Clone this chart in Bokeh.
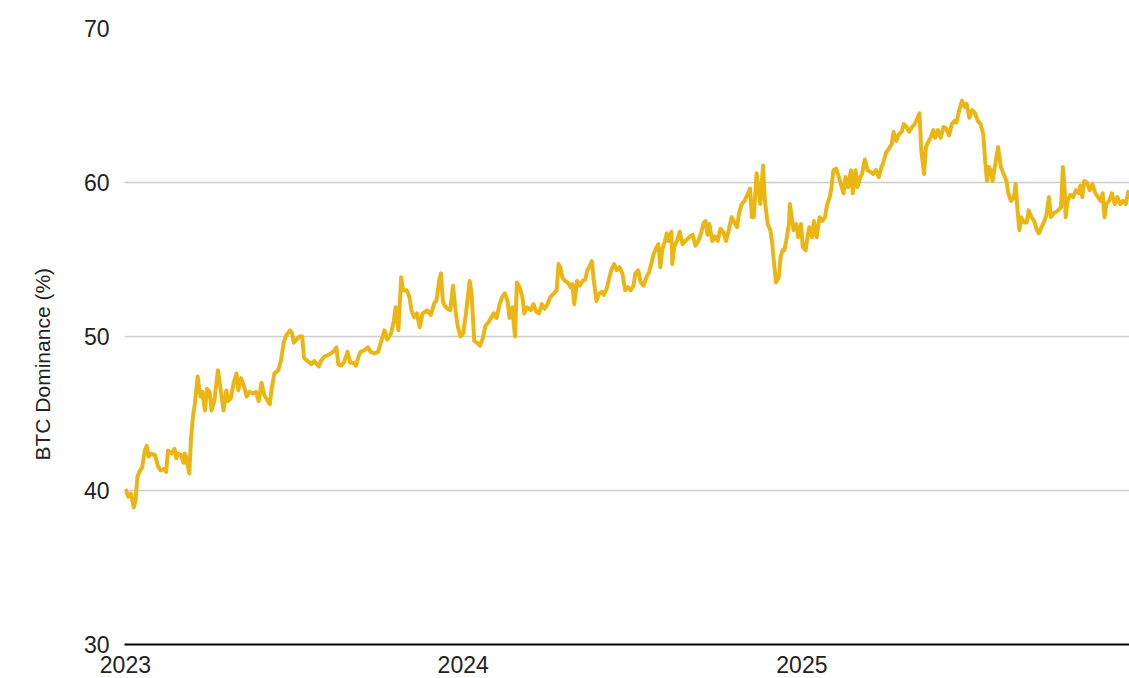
import pandas as pd
from bokeh.plotting import figure
from bokeh.models import Range1d, FixedTicker, DatetimeTickFormatter, Title
from bokeh.embed import file_html
from bokeh.resources import INLINE

# Days since 2023-01-01 and BTC dominance (%)
days = [0, 3, 6, 9, 11, 13, 15, 18, 21, 23, 25, 28, 32, 35, 38, 42, 44, 46, 50, 53,
        55, 57, 60, 63, 64, 66, 69, 71, 73, 75, 78, 81, 83, 86, 88, 91, 93, 96, 100, 103,
        106, 109, 111, 114, 117, 120, 122, 125, 128, 131, 134, 138, 141, 144, 147, 150, 154, 156, 158, 161,
        165, 167, 168, 171, 174, 178, 180, 182, 185, 188, 191, 193, 197, 201, 204, 209,
        211, 215, 219, 222, 226, 228, 230, 233, 236, 240, 243, 246, 249, 252, 254, 258, 262, 265, 269, 273,
        276, 280, 283, 287, 290, 292, 295, 298, 300, 304, 307, 309, 312, 315, 318, 321, 324, 326, 330, 334,
        336, 339, 341, 343, 345, 348, 351, 354, 357, 359, 362, 365, 368, 372, 374, 377, 380, 383, 386, 389,
        392, 395, 398, 401, 404, 407, 410, 413, 415, 418, 421, 423, 426,
        429, 431, 434, 438, 441, 444, 447, 450, 453, 456, 459, 463, 466, 468, 470, 472, 475, 478, 481, 483,
        485, 488, 491, 494, 497, 499, 501, 504, 506, 509, 512, 515, 517, 520, 523, 525, 528, 531, 534, 537,
        540, 543, 546, 549, 551, 554, 557, 560, 563, 566, 569, 571, 574, 576, 578, 580, 583, 585, 587, 590,
        591, 593, 596, 599, 602, 605, 607, 610, 613, 616, 619, 622, 625, 627, 629, 631, 634, 637, 640,
        643, 646, 649, 652, 655, 658, 661, 663, 666, 669, 672, 675, 677, 679, 682, 684, 686, 689, 691, 694,
        697, 699, 701, 703, 706, 708, 710, 712, 714, 717, 718, 720, 722, 725, 727, 730, 732, 735, 737, 739,
        742, 744, 747, 750, 753, 756, 758, 761, 763, 765, 768, 771, 773, 776, 778, 781, 784, 786, 789, 791,
        794, 796, 799, 802, 805, 808, 811, 814, 817, 819, 822, 825, 828, 830, 833, 836, 839, 841, 844, 847,
        850, 853, 856,
        858, 860, 863, 865, 868, 870, 873, 875, 878, 881, 884, 887, 890, 893, 896, 898, 901, 904, 907, 909,
        912, 915, 918, 921, 924, 927, 929, 931, 933, 935, 937, 940, 943, 946, 949, 952, 954, 957, 960, 962,
        964, 966, 968, 971, 974, 976, 979, 982, 985, 987, 990, 993, 995, 998, 1000, 1003, 1006, 1008, 1011, 1013,
        1015, 1016, 1018, 1021, 1024, 1027, 1030, 1032, 1034, 1036, 1039, 1042, 1045, 1048, 1051, 1054, 1056, 1058, 1060, 1063,
        1066, 1069, 1072, 1075, 1078, 1081, 1084]

dominance = [40.1, 39.6, 39.8, 38.9, 39.4, 40.9, 41.2, 41.5, 42.6, 42.9, 42.2, 42.4, 42.3, 41.6, 41.3, 41.4, 41.2, 42.6, 42.4, 42.7,
             42.1, 42.4, 42.3, 41.8, 42.4, 42.1, 41.1, 43.5, 44.8, 45.6, 47.4, 46.1, 46.4, 45.2, 46.6, 46.4, 45.2, 45.8, 47.8, 46.5,
             45.2, 46.5, 45.8, 46.0, 47.0, 47.6, 46.5, 47.3, 46.8, 46.1, 46.4, 46.3, 46.4, 45.8, 47.0, 46.2, 45.8, 45.6, 46.6, 47.6,
             47.8, 48.2, 48.4, 49.6, 50.1, 50.4, 50.2, 49.6, 49.8, 50.0, 50.0, 48.6, 48.4, 48.2, 48.4, 48.05,
             48.4, 48.7, 48.8, 48.9, 49.1, 49.3, 48.2, 48.1, 48.3, 49.0, 48.3, 48.3, 48.1, 48.7, 49.0, 49.1, 49.3, 49.0, 48.9, 49.0,
             49.6, 50.4, 49.8, 50.2, 51.0, 51.9, 50.4, 53.85, 53.0, 53.0, 52.55, 51.7, 51.25, 51.5, 50.6, 51.5, 51.6, 51.7, 51.4, 52.2,
             52.3, 53.6, 54.1, 52.3, 52.0, 51.8, 51.7, 53.3, 51.5, 50.7, 50.0, 50.2, 51.5, 53.6, 52.8, 49.7, 49.6, 49.4, 49.85, 50.7,
             50.9, 51.2, 51.5, 51.2, 52.0, 52.55, 52.8, 52.3, 51.2, 51.9, 50.0, 53.5, 53.2,
             52.55, 51.5, 51.9, 51.7, 52.1, 51.6, 51.5, 52.1, 51.8, 52.1, 52.55, 52.8, 53.0, 54.7, 54.5, 53.85, 53.6, 53.5, 53.2, 53.4,
             52.1, 53.6, 53.3, 53.6, 53.7, 54.3, 54.5, 54.9, 53.7, 52.3, 52.8, 52.9, 52.7, 53.1, 53.85, 54.3, 54.7, 54.3, 54.5, 54.1,
             53.0, 53.2, 53.0, 53.3, 54.1, 54.3, 53.5, 53.3, 53.85, 54.2, 54.9, 55.4, 55.8, 56.0, 54.5, 55.6, 56.2, 56.7, 56.2, 56.8,
             54.7, 55.8, 56.2, 56.8, 56.0, 56.2, 56.3, 56.5, 56.6, 55.9, 56.2, 56.7, 57.4, 57.5, 56.6, 57.3, 56.2, 56.5, 56.2,
             57.0, 56.8, 56.2, 56.9, 57.75, 57.4, 57.1, 58.0, 58.6, 58.8, 59.2, 59.6, 57.75, 57.75, 60.6, 59.7, 58.6, 61.1, 58.8, 57.3,
             56.9, 56.0, 54.7, 53.5, 53.85, 55.15, 55.6, 55.6, 56.2, 57.3, 58.6, 57.75, 56.9, 57.3, 56.45, 57.3, 55.8, 55.6, 56.45, 57.1,
             56.45, 57.5, 56.45, 57.75, 57.5, 57.75, 58.5, 59.05, 59.7, 60.8, 60.9, 60.35, 59.9, 59.3, 60.35, 59.7, 60.8, 59.3, 60.8, 59.7,
             60.35, 60.55, 61.5, 60.8, 60.7, 60.55, 60.8, 60.35, 61.0, 61.3, 61.95, 62.2, 62.5, 63.3, 62.7, 63.15, 63.3, 63.8, 63.6, 63.3,
             63.6, 63.8, 64.2,
             64.5, 62.1, 60.55, 62.3, 62.7, 62.9, 63.4, 62.9, 63.4, 62.9, 63.6, 63.5, 63.05, 63.8, 64.0, 63.9, 64.7, 65.3, 64.9, 65.1,
             64.2, 64.7, 64.5, 64.0, 63.8, 63.15, 61.4, 60.1, 61.0, 60.8, 60.1, 61.2, 62.3, 61.0, 60.55, 60.1, 59.3, 58.8, 59.05, 59.9,
             58.2, 56.9, 57.75, 57.4, 57.4, 58.2, 57.75, 57.5, 56.9, 56.7, 57.1, 57.5, 57.85, 59.05, 57.75, 58.0, 58.1, 58.2, 58.4, 61.0,
             59.5, 57.75, 58.8, 59.2, 59.05, 59.5, 59.3, 59.8, 59.05, 60.1, 60.0, 59.5, 59.9, 59.3, 59.05, 58.8, 59.3, 57.75, 58.6, 58.8,
             59.3, 58.6, 59.05, 58.6, 58.8, 58.6, 59.5]

year_ticks = ["2023-01-01", "2024-01-01", "2025-01-01"]
y_ticks = [30, 40, 50, 60, 70]
y_title = "BTC Dominance (%)"

start = pd.Timestamp("2023-01-01")
dates = [start + pd.Timedelta(days=d) for d in days]

FONT = "Liberation Sans"

x0 = start - pd.Timedelta(days=1)
x1 = start + pd.Timedelta(days=1085)

p = figure(width=1129, height=676, x_axis_type="datetime",
           output_backend="svg", toolbar_location=None,
           x_range=Range1d(x0, x1),
           y_range=Range1d(30, 70),
           min_border_left=124, min_border_right=0, min_border_top=28, min_border_bottom=32)

p.line(dates, dominance, line_color="#EBB614", line_width=4, line_join="round")

p.outline_line_color = None
p.background_fill_color = "white"
p.border_fill_color = "white"

# x axis
p.xaxis.ticker = FixedTicker(ticks=[pd.Timestamp(t).value // 10**6 for t in year_ticks])
p.xaxis.formatter = DatetimeTickFormatter(years="%Y", months="%Y", days="%Y", hours="%Y")
p.xaxis.axis_line_color = "black"
p.xaxis.axis_line_width = 2
p.xaxis.major_tick_line_color = None
p.xaxis.minor_tick_line_color = None
p.xaxis.major_label_text_font = FONT
p.xaxis.major_label_text_font_size = "23px"
p.xaxis.major_label_text_color = "#222222"
p.xaxis.major_label_standoff = 5
p.xgrid.grid_line_color = None

# y axis
p.yaxis.ticker = FixedTicker(ticks=y_ticks)
p.yaxis.axis_line_color = None
p.yaxis.major_tick_line_color = None
p.yaxis.minor_tick_line_color = None
p.yaxis.major_label_text_font = FONT
p.yaxis.major_label_text_font_size = "23px"
p.yaxis.major_label_text_color = "#222222"
p.yaxis.major_label_standoff = 9
p.ygrid.grid_line_color = "#cccccc"
p.ygrid.grid_line_width = 1.5

# y-axis title as a side title, so that its position along the axis can be set
p.add_layout(Title(text=y_title, align="left", offset=184, vertical_align="top",
                   standoff=50, text_font=FONT, text_font_size="21px",
                   text_font_style="normal", text_color="#222222"), "left")

open("out.html", "w").write(file_html(p, INLINE))
